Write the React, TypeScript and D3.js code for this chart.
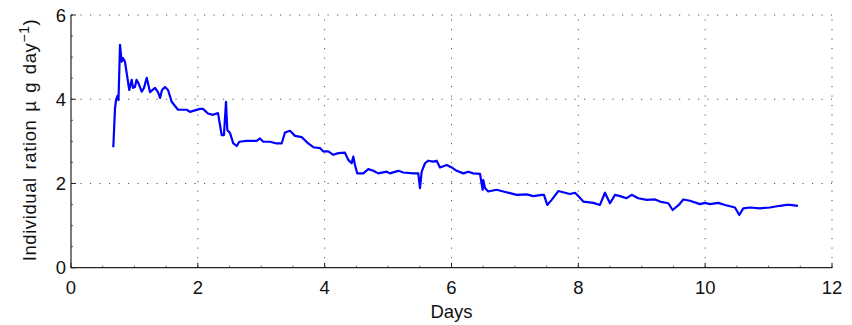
import React from "react";
import * as d3 from "d3";

const days: number[] = [
  0.667, 0.694, 0.71, 0.733, 0.749, 0.773, 0.799, 0.82, 0.851, 0.878, 0.919, 0.957, 0.978, 1.009, 1.033, 1.061,
  1.115, 1.151, 1.194, 1.246, 1.325, 1.372, 1.404, 1.435, 1.482, 1.53, 1.588, 1.64, 1.687, 1.824, 1.876, 2.034,
  2.081, 2.16, 2.239, 2.318, 2.376, 2.412, 2.444, 2.465, 2.507, 2.559, 2.613, 2.654, 2.77, 2.928, 2.98, 3.032,
  3.138, 3.243, 3.322, 3.374, 3.453, 3.532, 3.638, 3.742, 3.821, 3.926, 3.978, 4.057, 4.136, 4.215, 4.32, 4.372,
  4.426, 4.451, 4.478, 4.514, 4.609, 4.688, 4.767, 4.845, 4.978, 5.03, 5.161, 5.24, 5.397, 5.476, 5.503, 5.53,
  5.582, 5.634, 5.713, 5.766, 5.818, 5.924, 6.003, 6.082, 6.186, 6.265, 6.343, 6.449, 6.492, 6.501, 6.528, 6.58,
  6.712, 6.817, 6.922, 7.028, 7.186, 7.29, 7.422, 7.458, 7.51, 7.58, 7.684, 7.789, 7.868, 7.947, 7.999, 8.078,
  8.236, 8.341, 8.42, 8.499, 8.578, 8.657, 8.762, 8.841, 8.945, 9.078, 9.209, 9.288, 9.419, 9.487, 9.584, 9.655,
  9.76, 9.918, 9.997, 10.076, 10.207, 10.312, 10.47, 10.538, 10.601, 10.707, 10.864, 11.022, 11.18, 11.285, 11.337, 11.463,
];

const ration: number[] = [
  2.86, 3.79, 3.98, 4.08, 3.98, 5.29, 4.89, 4.98, 4.89, 4.62, 4.22, 4.46, 4.27, 4.29, 4.46, 4.39,
  4.18, 4.27, 4.51, 4.17, 4.27, 4.17, 4.03, 4.22, 4.29, 4.22, 3.94, 3.84, 3.75, 3.75, 3.7, 3.77,
  3.77, 3.66, 3.63, 3.67, 3.15, 3.15, 3.94, 3.27, 3.2, 2.95, 2.89, 2.99, 3.01, 3.01, 3.07, 2.99,
  2.99, 2.95, 2.95, 3.21, 3.25, 3.13, 3.1, 2.95, 2.86, 2.84, 2.76, 2.76, 2.68, 2.72, 2.73, 2.56,
  2.48, 2.64, 2.44, 2.24, 2.24, 2.34, 2.3, 2.24, 2.28, 2.24, 2.3, 2.26, 2.24, 2.24, 1.89, 2.28,
  2.48, 2.54, 2.52, 2.54, 2.38, 2.44, 2.38, 2.3, 2.24, 2.28, 2.24, 2.23, 1.85, 2.08, 1.89, 1.81,
  1.85, 1.81, 1.77, 1.73, 1.74, 1.7, 1.73, 1.73, 1.49, 1.61, 1.82, 1.78, 1.75, 1.78, 1.7, 1.57,
  1.54, 1.49, 1.78, 1.53, 1.73, 1.7, 1.65, 1.73, 1.65, 1.61, 1.62, 1.57, 1.53, 1.37, 1.49, 1.62,
  1.59, 1.51, 1.54, 1.51, 1.54, 1.49, 1.43, 1.25, 1.41, 1.43, 1.41, 1.43, 1.47, 1.49, 1.49, 1.47,
];

const xTicks: number[] = [0, 2, 4, 6, 8, 10, 12];
const yTicks: number[] = [0, 2, 4, 6];
const xLabel = "Days";
const yLabelMain = "Individual ration \u00B5 g day";
const yLabelSup = "\u22121";
const yLabelEnd = ")";

const W = 852;
const H = 325;
const L = 71;
const R = 832;
const T = 15;
const B = 267.7;

export default function App() {
  const x = d3.scaleLinear().domain([0, 12]).range([L, R]);
  const y = d3.scaleLinear().domain([0, 6]).range([B, T]);
  const pts: [number, number][] = days.map((d, i) => [d, ration[i]]);
  const line = d3
    .line<[number, number]>()
    .x((d) => x(d[0]))
    .y((d) => y(d[1]));
  const xMinor = d3.range(0, 12.001, 0.5);
  const yMinor = d3.range(0, 6.001, 0.5);
  const font = "'Liberation Sans', Arial, Helvetica, sans-serif";
  return (
    <svg
      width={W}
      height={H}
      style={{ position: "absolute", left: 0, top: 0, background: "#fff" }}
      fontFamily={font}
    >
      {/* grid */}
      <g stroke="#555" strokeWidth={1} strokeDasharray="1.2,8.3" fill="none">
        {xTicks.slice(1).map((t) => (
          <line key={"gx" + t} x1={x(t)} x2={x(t)} y1={y(0)} y2={y(6)} />
        ))}
        {yTicks.slice(1).map((t) => (
          <line key={"gy" + t} x1={x(0)} x2={x(12)} y1={y(t)} y2={y(t)} />
        ))}
      </g>
      {/* minor ticks */}
      <g stroke="#333" strokeWidth={0.8}>
        {xMinor.map((t) => (
          <line key={"mx" + t} x1={x(t)} x2={x(t)} y1={y(0)} y2={y(0) - 2} />
        ))}
        {yMinor.map((t) => (
          <line key={"my" + t} x1={x(0)} x2={x(0) + 2} y1={y(t)} y2={y(t)} />
        ))}
      </g>
      {/* major ticks */}
      <g stroke="#222" strokeWidth={1}>
        {xTicks.map((t) => (
          <line key={"tx" + t} x1={x(t)} x2={x(t)} y1={y(0)} y2={y(0) - 5} />
        ))}
        {yTicks.map((t) => (
          <line key={"ty" + t} x1={x(0)} x2={x(0) + 5} y1={y(t)} y2={y(t)} />
        ))}
      </g>
      {/* axes */}
      <g stroke="#222" strokeWidth={1.2}>
        <line x1={x(0)} x2={x(12)} y1={y(0)} y2={y(0)} />
        <line x1={x(0)} x2={x(0)} y1={y(0)} y2={y(6)} />
      </g>
      {/* data line */}
      <path d={line(pts) || ""} fill="none" stroke="#0000ff" strokeWidth={2.2} strokeLinejoin="round" />
      {/* tick labels */}
      <g fontSize={18.5} fill="#111">
        {xTicks.map((t) => (
          <text key={"lx" + t} x={x(t)} y={y(0) + 26} textAnchor="middle">
            {t}
          </text>
        ))}
        {yTicks.map((t) => (
          <text key={"ly" + t} x={x(0) - 5} y={y(t) + 6.5} textAnchor="end">
            {t}
          </text>
        ))}
      </g>
      <text x={(L + R) / 2} y={318} textAnchor="middle" fontSize={18.5} fill="#111">
        {xLabel}
      </text>
      <text
        transform={`translate(36, ${140}) rotate(-90)`}
        textAnchor="middle"
        fontSize={18.5}
        letterSpacing={0.6}
        wordSpacing={2}
        fill="#111"
      >
        {yLabelMain}
        <tspan dy={-7} fontSize={14}>
          {yLabelSup}
        </tspan>
        <tspan dy={7}>{yLabelEnd}</tspan>
      </text>
    </svg>
  );
}
